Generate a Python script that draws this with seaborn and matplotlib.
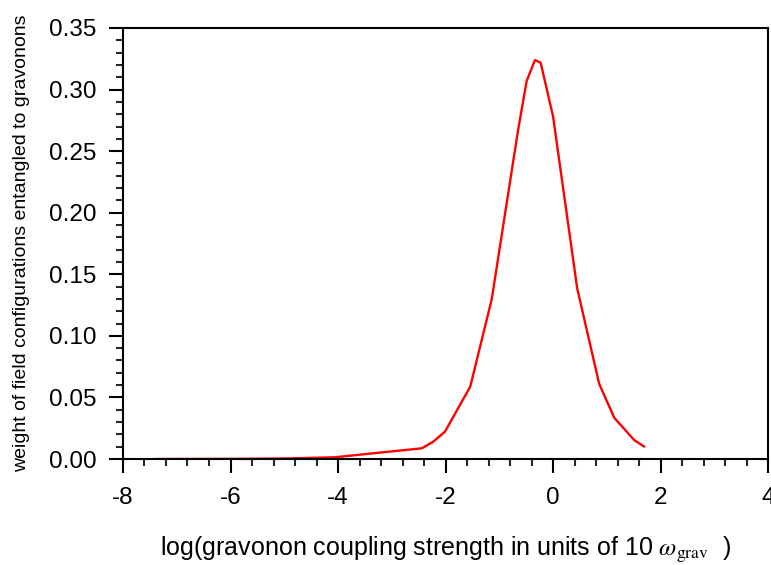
import numpy as np
import pandas as pd
import matplotlib
matplotlib.use('Agg')
import matplotlib.pyplot as plt
import matplotlib.ticker as mticker
import seaborn as sns

# curve (log coupling strength vs weight)
log_coupling = [-7.40, -6.00, -5.00, -4.06, -2.44, -2.23, -2.01, -1.54,
                -1.14, -0.65, -0.49, -0.335, -0.23, 0.00, 0.45, 0.86,
                1.14, 1.51, 1.70]
weight = [0.0000, 0.0001, 0.0004, 0.0014, 0.0087, 0.0140, 0.0222, 0.0587,
          0.1297, 0.2670, 0.3070, 0.3240, 0.3218, 0.2785, 0.1386, 0.0609,
          0.0335, 0.0154, 0.0100]

x_ticks = [-8, -6, -4, -2, 0, 2, 4]
y_ticks = [0.00, 0.05, 0.10, 0.15, 0.20, 0.25, 0.30, 0.35]

sns.set_style('ticks')
plt.rcParams['font.family'] = ['Liberation Sans', 'DejaVu Sans']
plt.rcParams['mathtext.fontset'] = 'stix'
plt.rcParams['axes.unicode_minus'] = False

df = pd.DataFrame({'x': log_coupling, 'y': weight})

fig = plt.figure(figsize=(7.71, 5.65), dpi=100)
ax = fig.add_axes([123 / 771, 1 - 459 / 565, (768 - 123) / 771, (459 - 28) / 565])

sns.lineplot(data=df, x='x', y='y', sort=False, color='#ff0000',
             linewidth=1.7, ax=ax)

ax.set_xlim(-8, 4)
ax.set_ylim(0, 0.35)
ax.set_xticks(x_ticks)
ax.set_yticks(y_ticks)
ax.xaxis.set_major_formatter(mticker.FormatStrFormatter('%d'))
ax.yaxis.set_major_formatter(mticker.FormatStrFormatter('%.2f'))
ax.xaxis.set_minor_locator(mticker.MultipleLocator(0.4))
ax.yaxis.set_minor_locator(mticker.MultipleLocator(0.01))

for s in ax.spines.values():
    s.set_linewidth(1.5)
    s.set_color('black')

ax.tick_params(which='major', direction='out', length=10, width=1.5,
               labelsize=17.5, colors='black')
ax.tick_params(which='minor', direction='out', length=5, width=1.5)
ax.tick_params(axis='x', which='major', pad=10)
ax.tick_params(axis='y', which='major', pad=9)

ax.set_xlabel(r'log(gravonon coupling strength in units of 10 $\omega_{\mathrm{grav}}$  )',
              fontsize=18, labelpad=19, color='black')
ax.set_ylabel('weight of field configurations entangled to gravonons',
              fontsize=14, labelpad=14, color='black')

fig.savefig('out.png', dpi=100)
